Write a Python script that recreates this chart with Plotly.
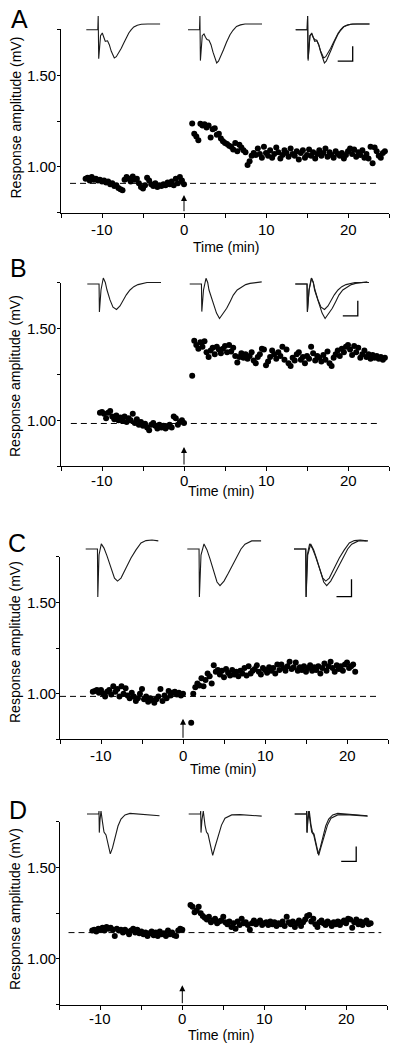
import plotly.graph_objects as go

W, H = 400, 1052
FONT = "Arial, 'Liberation Sans', Helvetica, sans-serif"

# ---------------- data: sampling times (min) ----------------
T_PRE = [-12.0, -11.75, -11.5, -11.25, -11.0, -10.75, -10.5, -10.25, -10.0, -9.75, -9.5, -9.25,
         -9.0, -8.75, -8.5, -8.25, -8.0, -7.75, -7.5, -7.25, -7.0, -6.75, -6.5, -6.25, -6.0,
         -5.75, -5.5, -5.25, -5.0, -4.75, -4.5, -4.25, -4.0, -3.75, -3.5, -3.25, -3.0, -2.75,
         -2.5, -2.25, -2.0, -1.75, -1.5, -1.25, -1.0, -0.75, -0.5, -0.25, 0.0]
T_POST = [1.0, 1.25, 1.5, 1.75, 2.0, 2.25, 2.5, 2.75, 3.0, 3.25, 3.5, 3.75, 4.0, 4.25, 4.5, 4.75,
          5.0, 5.25, 5.5, 5.75, 6.0, 6.25, 6.5, 6.75, 7.0, 7.25, 7.5, 7.75, 8.0, 8.25, 8.5, 8.75,
          9.0, 9.25, 9.5, 9.75, 10.0, 10.25, 10.5, 10.75, 11.0, 11.25, 11.5, 11.75, 12.0, 12.25,
          12.5, 12.75, 13.0, 13.25, 13.5, 13.75, 14.0, 14.25, 14.5, 14.75, 15.0, 15.25, 15.5,
          15.75, 16.0, 16.25, 16.5, 16.75, 17.0, 17.25, 17.5, 17.75, 18.0, 18.25, 18.5, 18.75,
          19.0, 19.25, 19.5, 19.75, 20.0, 20.25, 20.5, 20.75, 21.0, 21.25, 21.5, 21.75, 22.0,
          22.25, 22.5, 22.75, 23.0, 23.25, 23.5, 23.75, 24.0, 24.25, 24.5]

# ---------------- data: response amplitudes (mV) ----------------
A_pre = [0.935, 0.94, 0.925, 0.945, 0.93, 0.935, 0.925, 0.93, 0.92, 0.925,
         0.915, 0.92, 0.905, 0.91, 0.895, 0.9, 0.885, 0.878, 0.872, 0.93,
         0.945, 0.935, 0.92, 0.948, 0.93, 0.935, 0.91, 0.89, 0.882, 0.9,
         0.94, 0.925, 0.905, 0.895, 0.91, 0.89, 0.9, 0.895, 0.905, 0.9,
         0.915, 0.905, 0.92, 0.9, 0.935, 0.91, 0.945, 0.925, 0.905]
A_post = [1.237, 1.18, 1.165, 1.145, 1.235, 1.225, 1.232, 1.215, 1.225, 1.16,
          1.205, 1.21, 1.175, 1.18, 1.155, 1.14, 1.13, 1.125, 1.115, 1.11,
          1.095, 1.13, 1.085, 1.12, 1.105, 1.09, 1.08, 1.01, 1.03, 1.06,
          1.075, 1.065, 1.1, 1.07, 1.05, 1.11, 1.075, 1.06, 1.09, 1.05,
          1.07, 1.105, 1.08, 1.045, 1.065, 1.09, 1.075, 1.055, 1.1, 1.07,
          1.06, 1.085, 1.04, 1.075, 1.09, 1.05, 1.065, 1.095, 1.06, 1.08,
          1.045, 1.07, 1.09, 1.06, 1.075, 1.1, 1.055, 1.08, 1.065, 1.05,
          1.085, 1.07, 1.06, 1.075, 1.045, 1.065, 1.085, 1.1, 1.07, 1.095,
          1.055, 1.08, 1.065, 1.09, 1.05, 1.07, 1.045, 1.11, 1.02, 1.105,
          1.085, 1.06, 1.05, 1.075, 1.085]
B_pre = [1.04, 1.045, 1.035, 1.01, 1.04, 1.05, 1.02, 1.005, 1.025, 1.0,
         1.015, 0.995, 1.02, 0.99, 1.01, 1.0, 1.035, 0.985, 1.005, 0.975,
         0.99, 0.97, 0.98, 0.96, 0.945, 0.975, 0.985, 0.97, 0.955, 0.975,
         0.96, 0.97, 0.955, 0.965, 0.975, 0.96, 1.02, 1.01, 0.975, 0.99,
         1.0, 0.985]
B_post = [1.242, 1.433, 1.41, 1.39, 1.425, 1.40, 1.43, 1.37, 1.345, 1.38,
          1.395, 1.36, 1.40, 1.385, 1.365, 1.39, 1.405, 1.37, 1.41, 1.375,
          1.395, 1.35, 1.315, 1.345, 1.365, 1.34, 1.36, 1.335, 1.35, 1.37,
          1.325, 1.31, 1.345, 1.36, 1.39, 1.385, 1.30, 1.32, 1.345, 1.38,
          1.36, 1.335, 1.37, 1.35, 1.40, 1.33, 1.385, 1.31, 1.295, 1.34,
          1.325, 1.36, 1.37, 1.33, 1.345, 1.31, 1.35, 1.335, 1.40, 1.365,
          1.325, 1.35, 1.34, 1.32, 1.355, 1.33, 1.375, 1.31, 1.295, 1.34,
          1.36, 1.38, 1.35, 1.39, 1.37, 1.40, 1.41, 1.385, 1.355, 1.405,
          1.37, 1.395, 1.34, 1.36, 1.38, 1.345, 1.36, 1.335, 1.355, 1.34,
          1.35, 1.335, 1.345, 1.33, 1.34]
C_pre = [1.01, 1.015, 1.02, 1.005, 1.02, 1.0, 0.985, 1.01, 1.02, 0.995,
         1.04, 1.01, 1.025, 0.985, 1.04, 1.0, 1.03, 0.99, 0.975, 1.005,
         0.985, 0.96, 0.975, 1.0, 1.025, 0.97, 0.985, 0.955, 0.975, 0.965,
         0.95, 0.97, 0.985, 1.025, 0.96, 0.99, 0.975, 1.015, 0.99, 1.005,
         1.01, 0.995, 1.005, 0.99, 1.0]
C_post = [0.84, 1.0, 1.035, 1.055, 1.045, 1.085, 1.04, 1.075, 1.11, 1.095,
          1.055, 1.155, 1.12, 1.13, 1.105, 1.125, 1.09, 1.135, 1.115, 1.1,
          1.13, 1.105, 1.12, 1.095, 1.125, 1.11, 1.14, 1.1, 1.15, 1.11,
          1.125, 1.135, 1.155, 1.12, 1.105, 1.14, 1.13, 1.115, 1.145, 1.125,
          1.14, 1.11, 1.16, 1.13, 1.16, 1.14, 1.125, 1.15, 1.175, 1.135,
          1.145, 1.17, 1.125, 1.145, 1.13, 1.15, 1.12, 1.14, 1.155, 1.125,
          1.145, 1.13, 1.15, 1.11, 1.14, 1.165, 1.125, 1.15, 1.175, 1.14,
          1.12, 1.155, 1.135, 1.15, 1.125, 1.16, 1.17, 1.14, 1.15, 1.16,
          1.12]
D_pre = [1.155, 1.16, 1.15, 1.165, 1.16, 1.17, 1.155, 1.175, 1.165, 1.17,
         1.16, 1.125, 1.165, 1.155, 1.16, 1.145, 1.16, 1.15, 1.135, 1.155,
         1.165, 1.145, 1.16, 1.14, 1.15, 1.135, 1.145, 1.125, 1.14, 1.15,
         1.13, 1.145, 1.125, 1.15, 1.135, 1.14, 1.125, 1.155, 1.135, 1.145,
         1.13, 1.125, 1.155, 1.165, 1.16]
D_post = [1.295, 1.285, 1.255, 1.265, 1.285, 1.25, 1.235, 1.225, 1.215, 1.23,
          1.2, 1.21, 1.22, 1.195, 1.205, 1.21, 1.23, 1.2, 1.19, 1.205,
          1.175, 1.195, 1.165, 1.205, 1.185, 1.22, 1.195, 1.2, 1.185, 1.16,
          1.195, 1.21, 1.19, 1.2, 1.21, 1.185, 1.195, 1.2, 1.185, 1.205,
          1.19, 1.2, 1.18, 1.195, 1.19, 1.205, 1.18, 1.23, 1.2, 1.19,
          1.205, 1.175, 1.195, 1.21, 1.18, 1.2, 1.215, 1.235, 1.24, 1.205,
          1.22, 1.19, 1.175, 1.2, 1.21, 1.195, 1.185, 1.205, 1.195, 1.18,
          1.2, 1.19, 1.205, 1.185, 1.2, 1.21, 1.195, 1.22, 1.215, 1.17,
          1.2, 1.215, 1.19, 1.205, 1.185, 1.2, 1.21, 1.19, 1.195]

PRE_T = {"A": T_PRE, "B": T_PRE[7:], "C": T_PRE[4:], "D": T_PRE[4:]}
POST_T = {"A": T_POST, "B": T_POST, "C": T_POST[:81], "D": T_POST[:89]}
PRE_V = {"A": A_pre, "B": B_pre, "C": C_pre, "D": D_pre}
POST_V = {"A": A_post, "B": B_post, "C": C_post, "D": D_post}

# baseline (dashed) level, its start / end time, and arrow tip (tetanus at t=0)
BASE_LEVEL = {"A": 0.91, "B": 0.982, "C": 0.985, "D": 1.144}
BASE_START = {"A": -13.9, "B": -13.8, "C": -15.0, "D": -13.9}
BASE_END = {"A": 23.7, "B": 23.7, "C": 23.6, "D": 24.3}
ARROW_TIP = {"A": 0.846, "B": 0.854, "C": 0.863, "D": 0.856}

# ---------------- data: example field potentials (ms, mV) ----------------
WAVE_PRE_T = {
    "A": [0.2, 2.5, 2.58, 2.68, 3.05, 3.4, 3.7, 4.0, 4.45, 4.8, 5.2, 5.5, 5.8, 6.2, 6.7, 7.2,
          7.7, 8.2, 8.7, 9.2, 9.7, 10.4, 11.2, 12.5, 15.0],
    "B": [0.2, 2.55, 2.62, 2.94, 3.4, 3.8, 4.14, 4.74, 5.34, 6.04, 6.74, 7.34, 8.0, 8.74, 9.5,
          10.34, 11.2, 12.14, 14.94],
    "C": [0.2, 2.55, 2.62, 2.86, 3.32, 3.86, 4.46, 5.26, 5.96, 6.56, 7.26, 8.26, 9.26, 10.26,
          11.26, 12.26, 13.46, 14.72],
    "D": [0.2, 2.55, 2.6, 2.66, 2.8, 3.0, 3.3, 3.6, 4.0, 4.4, 4.86, 5.3, 5.8, 6.4, 7.0, 7.8,
          8.8, 10.8, 12.8, 14.7],
}
WAVE_PRE_V = {
    "A": [0, 0, 0.46, -0.97, -0.2, -0.11, -0.25, -0.39, -0.37, -0.5, -0.72, -0.86, -0.94,
          -0.9, -0.78, -0.62, -0.44, -0.27, -0.11, 0.0, 0.09, 0.15, 0.18, 0.19, 0.19],
    "B": [0, 0, -0.93, -0.2, 0.2, 0.05, -0.2, -0.53, -0.77, -0.85, -0.73, -0.53, -0.36, -0.2,
          -0.09, -0.02, 0.02, 0.05, 0.05],
    "C": [0, 0, -1.6, -0.2, 0.17, 0.03, -0.23, -0.63, -0.97, -1.07, -0.97, -0.63, -0.3, -0.03,
          0.2, 0.28, 0.3, 0.27],
    "D": [0, 0, 0.1, -0.62, -0.2, 0.1, -0.27, -0.6, -0.7, -1.03, -1.33, -1.13, -0.77, -0.4,
          -0.17, -0.03, 0.02, 0.0, -0.03, -0.06],
}
WAVE_POST_T = {
    "A": [0.2, 2.5, 2.58, 2.68, 3.05, 3.4, 3.7, 4.0, 4.4, 4.8, 5.2, 5.6, 5.94, 6.3, 6.8, 7.3,
          7.9, 8.6, 9.2, 9.9, 10.7, 11.6, 13.0, 15.0],
    "B": [0.2, 2.55, 2.62, 2.96, 3.46, 3.8, 4.06, 4.86, 5.56, 6.16, 6.86, 7.6, 8.3, 8.92, 9.7,
          10.6, 11.4, 12.26, 14.6],
    "C": [0.2, 2.55, 2.62, 2.94, 3.54, 4.14, 4.74, 5.54, 6.14, 6.74, 7.54, 8.4, 9.24, 10.08,
          10.94, 11.74, 13.08, 15.0],
    "D": [0.2, 2.55, 2.6, 2.66, 2.85, 3.12, 3.46, 3.76, 4.06, 4.46, 5.0, 5.46, 6.12, 6.76,
          7.46, 8.8, 10.46, 12.46, 14.8],
}
WAVE_POST_V = {
    "A": [0, 0, 0.46, -1.03, -0.2, -0.14, -0.25, -0.33, -0.35, -0.5, -0.75, -0.98, -1.11,
          -1.05, -0.88, -0.67, -0.42, -0.17, -0.02, 0.11, 0.16, 0.19, 0.19, 0.19],
    "B": [0, 0, -0.92, -0.2, 0.19, 0.05, -0.2, -0.6, -0.97, -1.15, -1.0, -0.81, -0.58, -0.37,
          -0.2, -0.09, -0.02, 0.02, 0.07],
    "C": [0, 0, -1.6, -0.2, 0.17, -0.03, -0.33, -0.77, -1.1, -1.22, -1.07, -0.81, -0.53,
          -0.26, 0.0, 0.16, 0.27, 0.27],
    "D": [0, 0, 0.1, -0.62, -0.2, 0.1, -0.37, -0.6, -0.67, -0.97, -1.38, -1.1, -0.7, -0.37,
          -0.14, -0.03, -0.02, -0.05, -0.07],
}
SCALE_MS = 3.0
SCALE_MV = {"A": 0.5, "B": 0.5, "C": 0.58, "D": 0.5}

X_TICKS = [-15, -10, -5, 0, 5, 10, 15, 20, 25]
X_LABELED = [-10, 0, 10, 20]
Y_TICKS = [0.75, 1.0, 1.25, 1.5, 1.75]
Y_LABELED = [1.0, 1.5]
PANELS = ["A", "B", "C", "D"]

# ---------------- layout geometry (pixels) ----------------
MAIN_X_PX = {"A": (61, 389), "B": (61, 389), "C": (60, 388), "D": (59.5, 387)}
MAIN_Y_PX = {"A": (29.3, 212.7), "B": (282.7, 466), "C": (556.7, 739.3), "D": (821.7, 1004.7)}
XLABEL_Y = {"A": 229.5, "B": 480, "C": 755, "D": 1018.3}
YLABEL_RIGHT = 57.8
INSET_X0 = {"A": [85.3, 187, 294.7], "B": [86.3, 188.7, 294.3],
            "C": [84.7, 186.3, 293], "D": [86, 187.7, 293.7]}
INSET_BASE = {"A": 29.7, "B": 284, "C": 549, "D": 814}
SCALE_CORNER = {"A": (11.6, -1.05), "B": (12.7, -1.06), "C": (11.7, -1.59), "D": (12.5, -1.58)}
LETTER_POS = {"A": (19, 19), "B": (18, 268), "C": (17, 543), "D": (18, 810)}
XTITLE_POS = {"A": (226, 247), "B": (221, 491), "C": (223, 768.5), "D": (221, 1035)}
YTITLE_POS = {"A": (15.5, 118), "B": (15, 376), "C": (15, 642), "D": (15, 909)}
PX_PER_MS = 5.0
PX_PER_MV = 30.0
IN_RANGE_X = [0, 15]
IN_RANGE_Y = [-1.8, 0.6]


def px(xp):
    return xp / W


def py(yp):
    return 1 - yp / H


def fmt_tick(v):
    return "%d" % v


fig = go.Figure()
layout = {}
annotations = []
LINE = "#1a1a1a"
TICKFONT = dict(family=FONT, size=15, color="black")
TITLEFONT = dict(family=FONT, size=14, color="black")

for i, key in enumerate(PANELS):
    n = i + 1
    xr = "x" if n == 1 else f"x{n}"
    yr = "y" if n == 1 else f"y{n}"
    xk = "xaxis" if n == 1 else f"xaxis{n}"
    yk = "yaxis" if n == 1 else f"yaxis{n}"
    x0, x1 = MAIN_X_PX[key]
    yt, yb = MAIN_Y_PX[key]
    layout[xk] = dict(domain=[px(x0), px(x1)], range=[-15, 25], anchor=yr,
                      showline=True, linecolor="black", linewidth=1,
                      ticks="outside", ticklen=4, tickwidth=1, tickcolor="black",
                      tickvals=X_TICKS, showticklabels=False, showgrid=False,
                      zeroline=False, fixedrange=True)
    layout[yk] = dict(domain=[py(yb), py(yt)], range=[0.75, 1.75], anchor=xr,
                      showline=True, linecolor="black", linewidth=1,
                      ticks="outside", ticklen=3, tickwidth=1, tickcolor="black",
                      tickvals=Y_TICKS, showticklabels=False, showgrid=False,
                      zeroline=False, fixedrange=True)

    # tick labels
    for xv in X_LABELED:
        annotations.append(dict(x=xv, y=py(XLABEL_Y[key]), xref=xr, yref="paper",
                                text=fmt_tick(xv), showarrow=False, xanchor="center",
                                yanchor="middle", font=TICKFONT))
    for yv in Y_LABELED:
        annotations.append(dict(x=px(YLABEL_RIGHT), y=yv, xref="paper", yref=yr,
                                text="%.2f" % yv, showarrow=False, xanchor="right",
                                yanchor="middle", font=TICKFONT))

    # dashed baseline
    fig.add_trace(go.Scatter(x=[BASE_START[key], BASE_END[key]],
                             y=[BASE_LEVEL[key], BASE_LEVEL[key]],
                             mode="lines", xaxis=xr, yaxis=yr, hoverinfo="skip",
                             line=dict(color="black", width=1, dash="6px,4px")))
    # data points
    fig.add_trace(go.Scatter(x=PRE_T[key] + POST_T[key], y=PRE_V[key] + POST_V[key],
                             mode="markers", xaxis=xr, yaxis=yr,
                             marker=dict(color="black", size=6, line=dict(width=0))))
    # arrow marking tetanus
    annotations.append(dict(x=0, y=ARROW_TIP[key], xref=xr, yref=yr,
                            ax=0, ay=0.75, axref=xr, ayref=yr, text="",
                            showarrow=True, arrowhead=2, arrowsize=1.2,
                            arrowwidth=1, arrowcolor="black", standoff=0))
    # texts
    lx, ly = LETTER_POS[key]
    annotations.append(dict(x=px(lx), y=py(ly), xref="paper", yref="paper", text=key,
                            showarrow=False, xanchor="center", yanchor="middle",
                            font=dict(family=FONT, size=25, color="black")))
    tx, ty = XTITLE_POS[key]
    annotations.append(dict(x=px(tx), y=py(ty), xref="paper", yref="paper",
                            text="Time (min)", showarrow=False, xanchor="center",
                            yanchor="middle", font=TITLEFONT))
    vx, vy = YTITLE_POS[key]
    annotations.append(dict(x=px(vx), y=py(vy), xref="paper", yref="paper",
                            text="Response amplitude (mV)", textangle=-90, showarrow=False,
                            xanchor="center", yanchor="middle", font=TITLEFONT))

    # insets with example traces
    base = INSET_BASE[key]
    ytop = base - IN_RANGE_Y[1] * PX_PER_MV
    ybot = base - IN_RANGE_Y[0] * PX_PER_MV
    for j in range(3):
        m = 5 + 3 * i + j
        ixr, iyr = f"x{m}", f"y{m}"
        ix0 = INSET_X0[key][j]
        ix1 = ix0 + (IN_RANGE_X[1] - IN_RANGE_X[0]) * PX_PER_MS
        layout[f"xaxis{m}"] = dict(domain=[px(ix0), px(ix1)], range=IN_RANGE_X,
                                   anchor=iyr, visible=False, fixedrange=True)
        layout[f"yaxis{m}"] = dict(domain=[py(ybot), py(ytop)], range=IN_RANGE_Y,
                                   anchor=ixr, visible=False, fixedrange=True)
        if j in (0, 2):
            fig.add_trace(go.Scatter(x=WAVE_PRE_T[key], y=WAVE_PRE_V[key], mode="lines",
                                     xaxis=ixr, yaxis=iyr, hoverinfo="skip",
                                     line=dict(color=LINE, width=1.1)))
        if j in (1, 2):
            fig.add_trace(go.Scatter(x=WAVE_POST_T[key], y=WAVE_POST_V[key], mode="lines",
                                     xaxis=ixr, yaxis=iyr, hoverinfo="skip",
                                     line=dict(color=LINE, width=1.1)))
        if j == 2:
            ct, cv = SCALE_CORNER[key]
            fig.add_trace(go.Scatter(x=[ct - SCALE_MS, ct, ct],
                                     y=[cv, cv, cv + SCALE_MV[key]], mode="lines",
                                     xaxis=ixr, yaxis=iyr, hoverinfo="skip",
                                     line=dict(color="black", width=1.3)))

fig.update_layout(**layout)
fig.update_layout(width=W, height=H, margin=dict(l=0, r=0, t=0, b=0),
                  showlegend=False, paper_bgcolor="white",
                  plot_bgcolor="rgba(0,0,0,0)", annotations=annotations,
                  font=dict(family=FONT, color="black"))

fig.write_html("out.html", include_plotlyjs=True, config={"displayModeBar": False},
               post_script="document.body.style.margin='0';document.body.style.overflow='hidden';")
